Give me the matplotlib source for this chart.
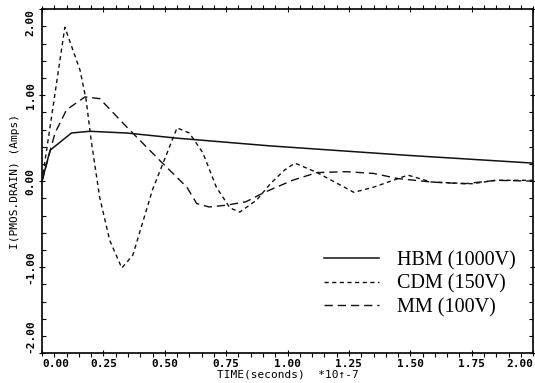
import matplotlib
matplotlib.use("Agg")
import matplotlib.pyplot as plt
from matplotlib.ticker import MultipleLocator
import numpy as np

# time in units of 1e-7 s, current in A
hbm_t = [0.0, 0.033, 0.12, 0.195, 0.345, 0.55, 0.93, 1.49, 2.0]
hbm_i = [0.0, 0.36, 0.56, 0.58, 0.56, 0.50, 0.41, 0.30, 0.21]

cdm_t = [0.0, 0.093, 0.155, 0.18, 0.20, 0.235, 0.276, 0.325, 0.37, 0.45, 0.55,
         0.60, 0.655, 0.71, 0.765, 0.805, 0.874, 0.93, 0.988, 1.03, 1.12, 1.27,
         1.35, 1.49, 1.585, 1.75, 1.85, 2.0]
cdm_i = [0.0, 1.79, 1.29, 0.94, 0.48, -0.19, -0.69, -1.01, -0.86, -0.10, 0.62,
         0.56, 0.33, -0.07, -0.31, -0.36, -0.22, -0.03, 0.13, 0.21, 0.10, -0.13,
         -0.07, 0.07, -0.01, -0.03, 0.01, 0.01]

mm_t = [0.0, 0.053, 0.10, 0.175, 0.235, 0.345, 0.48, 0.59, 0.63, 0.68, 0.75,
        0.83, 0.906, 1.02, 1.12, 1.24, 1.35, 1.45, 1.585, 1.72, 1.85, 2.0]
mm_i = [0.0, 0.56, 0.83, 0.98, 0.96, 0.63, 0.24, -0.07, -0.26, -0.30, -0.28,
        -0.24, -0.13, 0.01, 0.10, 0.11, 0.09, 0.03, -0.01, -0.03, 0.01, 0.0]

labels = ["HBM (1000V)", "CDM (150V)", "MM (100V)"]
xticks = [0.0, 0.25, 0.5, 0.75, 1.0, 1.25, 1.5, 1.75, 2.0]
yticks = [-2, -1, 0, 1, 2]


def main():
    fig = plt.figure(figsize=(5.35, 3.83), dpi=100)
    ax = fig.add_axes([0.0785, 0.078, 0.918, 0.898])

    ax.plot(hbm_t, hbm_i, color="#111111", lw=1.1, label=labels[0])
    ax.plot(cdm_t, cdm_i, color="#111111", lw=1.0, dashes=(3, 2.5), label=labels[1])
    ax.plot(mm_t, mm_i, color="#111111", lw=1.0, dashes=(6, 3.5), label=labels[2])

    ax.set_xlim(0, 2)
    ax.set_ylim(-2, 2)
    ax.xaxis.set_minor_locator(MultipleLocator(0.05))
    ax.yaxis.set_minor_locator(MultipleLocator(0.2))

    mono = dict(family="DejaVu Sans Mono", size=8)
    ax.set_xticks(xticks)
    xl = ax.set_xticklabels(["%.2f" % v for v in xticks], weight="bold", **mono)
    xl[0].set_ha("left")
    xl[-1].set_ha("right")
    ax.set_yticks(yticks)
    yl = ax.set_yticklabels(["%.2f" % v for v in yticks], rotation=90,
                            va="center", weight="bold", **mono)
    yl[0].set_va("bottom")
    yl[-1].set_va("top")

    ax.tick_params(which="both", top=True, right=True, width=0.8)
    ax.tick_params(axis="x", which="major", direction="inout", length=5, pad=2)
    ax.tick_params(axis="x", which="minor", direction="out", length=3)
    ax.tick_params(axis="y", which="major", direction="inout", length=5, pad=2)
    ax.tick_params(axis="y", which="minor", direction="in", length=3)
    for s in ax.spines.values():
        s.set_linewidth(1.2)

    ax.set_xlabel("TIME(seconds)  *10\u2191-7", labelpad=0, **mono)
    ax.set_ylabel("I(PMOS.DRAIN) (Amps)", **mono)
    ax.yaxis.set_label_coords(-0.045, 0.5)

    ax.legend(loc="lower left", bbox_to_anchor=(0.575, 0.105), frameon=False,
              prop={"family": "Liberation Serif", "size": 14.5},
              handlelength=2.7, handletextpad=0.9, labelspacing=0.2,
              borderpad=0, borderaxespad=0)

    fig.savefig("out.png", dpi=100)


if __name__ == "__main__":
    main()
